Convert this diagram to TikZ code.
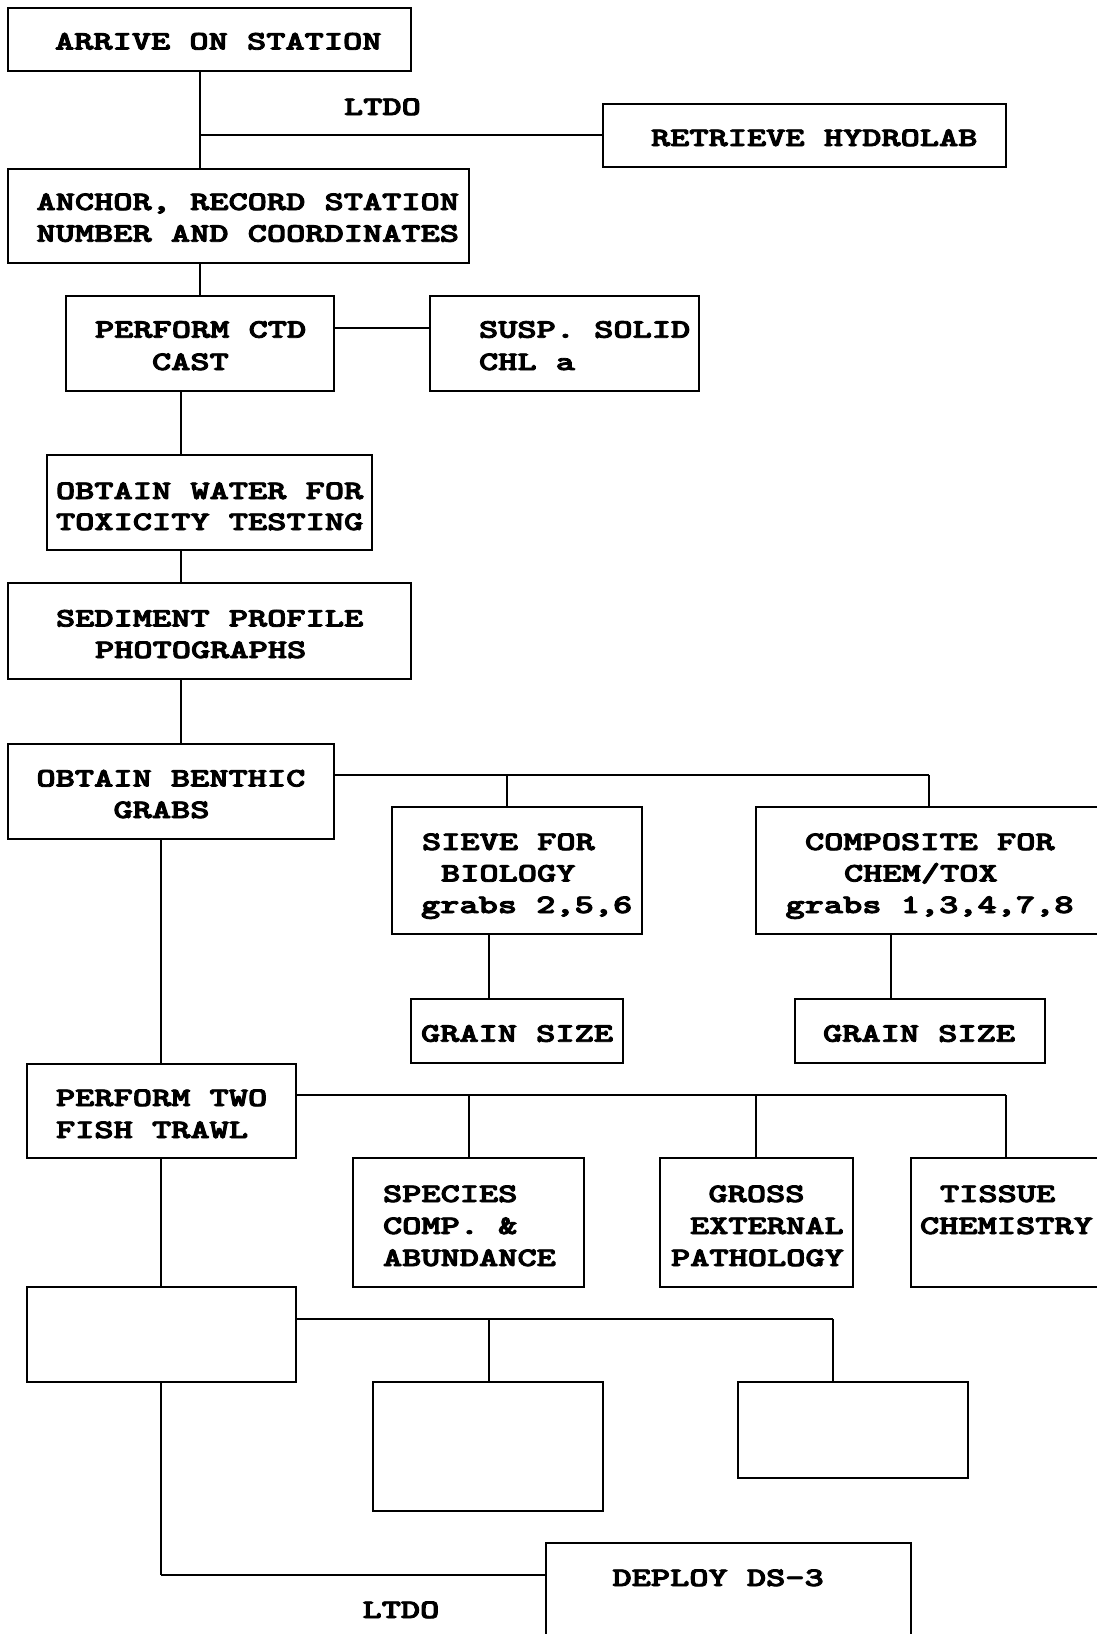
\documentclass[tikz,border=0pt]{standalone}
\usepackage{graphicx}
\usepackage{fontspec}
\newfontfamily\courb[FakeBold=3]{lmmonolt10-bold.otf}
\newcommand{\wt}[1]{\scalebox{1.37}[1]{#1}}
\tikzset{
  box/.style={draw, line width=1.5pt, inner sep=0pt, outer sep=0pt, anchor=north west},
  txt/.style={anchor=base west, inner sep=0pt, outer sep=0pt, font=\courb\fontsize{26.7}{31}\selectfont},
  conn/.style={line width=1.8pt},
  hconn/.style={line width=1.2pt}
}
\begin{document}
\begin{tikzpicture}[x=1pt,y=-1pt]
\useasboundingbox (0,0) rectangle (1097,1634);
% boxes
\node[box, minimum width=403pt, minimum height=63pt] (arrive) at (8,8) {};
\node[box, minimum width=403pt, minimum height=63pt] (retrieve) at (603,104) {};
\node[box, minimum width=461pt, minimum height=94pt] (anchorbox) at (8,169) {};
\node[box, minimum width=268pt, minimum height=95pt] (ctd) at (66,296) {};
\node[box, minimum width=269pt, minimum height=95pt] (susp) at (430,296) {};
\node[box, minimum width=325pt, minimum height=95pt] (water) at (47,455) {};
\node[box, minimum width=403pt, minimum height=96pt] (sediment) at (8,583) {};
\node[box, minimum width=326pt, minimum height=95pt] (benthic) at (8,744) {};
\node[box, minimum width=250pt, minimum height=127pt] (sieve) at (392,807) {};
\node[box, minimum width=350pt, minimum height=127pt] (composite) at (756,807) {};
\node[box, minimum width=212pt, minimum height=64pt] (grainA) at (411,999) {};
\node[box, minimum width=250pt, minimum height=64pt] (grainB) at (795,999) {};
\node[box, minimum width=269pt, minimum height=94pt] (fish) at (27,1064) {};
\node[box, minimum width=231pt, minimum height=129pt] (species) at (353,1158) {};
\node[box, minimum width=193pt, minimum height=129pt] (gross) at (660,1158) {};
\node[box, minimum width=195pt, minimum height=129pt] (tissue) at (911,1158) {};
\node[box, minimum width=269pt, minimum height=95pt] (emptyA) at (27,1287) {};
\node[box, minimum width=230pt, minimum height=129pt] (emptyB) at (373,1382) {};
\node[box, minimum width=230pt, minimum height=96pt] (emptyC) at (738,1382) {};
\node[box, minimum width=365pt, minimum height=110pt] (deploy) at (546,1543) {};
% texts
\node[txt] (tArrive) at (55,49.5) {\wt{ARRIVE ON STATION}};
\node[txt] (tLtdoA) at (344,115) {\wt{LTDO}};
\node[txt] (tRetrieve) at (651,146) {\wt{RETRIEVE HYDROLAB}};
\node[txt] (tAnchorA) at (36.5,210) {\wt{ANCHOR, RECORD STATION}};
\node[txt] (tAnchorB) at (36.5,241.7) {\wt{NUMBER AND COORDINATES}};
\node[txt] (tCtdA) at (95,337.7) {\wt{PERFORM CTD}};
\node[txt] (tCtdB) at (152,370) {\wt{CAST}};
\node[txt] (tSuspA) at (479,337.7) {\wt{SUSP. SOLID}};
\node[txt] (tSuspB) at (479,370) {\wt{CHL a}};
\node[txt] (tWaterA) at (56,499) {\wt{OBTAIN WATER FOR}};
\node[txt] (tWaterB) at (56,530) {\wt{TOXICITY TESTING}};
\node[txt] (tSedA) at (56,626.5) {\wt{SEDIMENT PROFILE}};
\node[txt] (tSedB) at (95,658) {\wt{PHOTOGRAPHS}};
\node[txt] (tBenA) at (36.5,786.5) {\wt{OBTAIN BENTHIC}};
\node[txt] (tBenB) at (113.5,818) {\wt{GRABS}};
\node[txt] (tSieveA) at (422,850) {\wt{SIEVE FOR}};
\node[txt] (tSieveB) at (441,881.5) {\wt{BIOLOGY}};
\node[txt] (tSieveC) at (421,913) {\wt{grabs 2,5,6}};
\node[txt] (tCompA) at (805,850) {\wt{COMPOSITE FOR}};
\node[txt] (tCompB) at (844,881.5) {\wt{CHEM/TOX}};
\node[txt] (tCompC) at (785.5,913) {\wt{grabs 1,3,4,7,8}};
\node[txt] (tGrainA) at (421,1041.7) {\wt{GRAIN SIZE}};
\node[txt] (tGrainB) at (823,1041.7) {\wt{GRAIN SIZE}};
\node[txt] (tFishA) at (56,1106) {\wt{PERFORM TWO}};
\node[txt] (tFishB) at (56,1138) {\wt{FISH TRAWL}};
\node[txt] (tSpecA) at (383,1202) {\wt{SPECIES}};
\node[txt] (tSpecB) at (383,1234) {\wt{COMP. \&}};
\node[txt] (tSpecC) at (383,1266) {\wt{ABUNDANCE}};
\node[txt] (tGrossA) at (708.5,1202) {\wt{GROSS}};
\node[txt] (tGrossB) at (690,1234) {\wt{EXTERNAL}};
\node[txt] (tGrossC) at (671,1266) {\wt{PATHOLOGY}};
\node[txt] (tTisA) at (940,1202) {\wt{TISSUE}};
\node[txt] (tTisB) at (920,1234) {\wt{CHEMISTRY}};
\node[txt] (tDeploy) at (612.5,1586) {\wt{DEPLOY DS-3}};
\node[txt] (tLtdoB) at (362.5,1618) {\wt{LTDO}};
% junction coordinates
\coordinate (jA) at (200,135);
\coordinate (jB) at (0,328);
\coordinate (xC) at (181,0);
\coordinate (bdA) at (507,775);
\coordinate (bdB) at (929,775);
\coordinate (gA) at (489,0);
\coordinate (gB) at (891,0);
\coordinate (xD) at (161,0);
\coordinate (fdA) at (469,1095);
\coordinate (fdB) at (756,1095);
\coordinate (fdC) at (1006,1095);
\coordinate (edA) at (489,1319);
\coordinate (edB) at (833,1319);
\coordinate (corner) at (161,1575);
% connectors
\draw[conn] (arrive.south -| jA) -- (anchorbox.north -| jA);
\draw[hconn] (jA) -- (retrieve.west |- jA);
\draw[conn] (anchorbox.south -| jA) -- (ctd.north -| jA);
\draw[hconn] (ctd.east |- jB) -- (susp.west |- jB);
\draw[conn] (ctd.south -| xC) -- (water.north -| xC);
\draw[conn] (water.south -| xC) -- (sediment.north -| xC);
\draw[conn] (sediment.south -| xC) -- (benthic.north -| xC);
\draw[hconn] (benthic.east |- bdA) -- (bdB);
\draw[conn] (bdA) -- (sieve.north -| bdA);
\draw[conn] (bdB) -- (composite.north -| bdB);
\draw[conn] (sieve.south -| gA) -- (grainA.north -| gA);
\draw[conn] (composite.south -| gB) -- (grainB.north -| gB);
\draw[conn] (benthic.south -| xD) -- (fish.north -| xD);
\draw[hconn] (fish.east |- fdA) -- (fdC);
\draw[conn] (fdA) -- (species.north -| fdA);
\draw[conn] (fdB) -- (gross.north -| fdB);
\draw[conn] (fdC) -- (tissue.north -| fdC);
\draw[conn] (fish.south -| xD) -- (emptyA.north -| xD);
\draw[hconn] (emptyA.east |- edA) -- (edB);
\draw[conn] (edA) -- (emptyB.north -| edA);
\draw[conn] (edB) -- (emptyC.north -| edB);
\draw[conn] (emptyA.south -| xD) -- (corner);
\draw[hconn] (corner) -- (deploy.west |- corner);
\end{tikzpicture}
\end{document}
